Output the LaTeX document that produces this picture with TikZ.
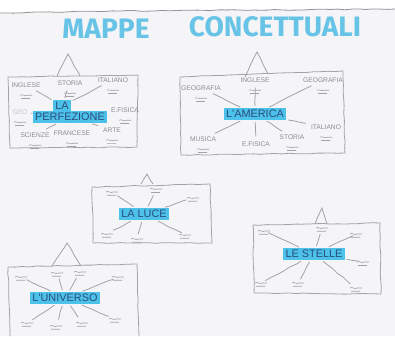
\documentclass[tikz,border=0pt]{standalone}
\usepackage{fontspec}
\usetikzlibrary{positioning, decorations.pathmorphing, calc}
\newfontfamily\titlefont{Fira Sans}
\newfontfamily\handfont{Liberation Sans}
\definecolor{mpPaper}{HTML}{F5F5F7}
\definecolor{mpPencil}{HTML}{A2A2A8}
\definecolor{mpLabel}{HTML}{8C8C94}
\definecolor{mpCyan}{HTML}{4CC2EA}
\definecolor{mpSky}{HTML}{68C4E6}
\definecolor{mpInk}{HTML}{2C4C7C}
\tikzset{
  pencil/.style={draw=mpPencil, line width=0.45pt, decorate,
    decoration={random steps, segment length=4pt, amplitude=0.25pt}},
  link/.style={pencil, shorten <=1pt, shorten >=2pt},
  topic/.style={fill=mpCyan, text=mpInk, inner sep=1.2pt,
    font=\handfont\fontsize{6.2}{6.5}\selectfont},
  subject/.style={text=mpLabel, inner sep=0.8pt,
    font=\handfont\fontsize{3.8}{4}\selectfont},
  squig/.pic={
    \draw[mpPencil, line width=0.35pt] (-6,0) .. controls (-4,-1.8) and (-1,1.8) .. (1,0)
      .. controls (2.5,-1.2) and (4,1.2) .. (6,0);
    \draw[mpPencil, line width=0.35pt] (-5,3.2) .. controls (-2,2.2) and (1,4.2) .. (4,3.2);
  }
}

\begin{document}
\begin{tikzpicture}[x=0.02cm, y=-0.02cm]
  \useasboundingbox (0,0) rectangle (395,336);
  \fill[white] (0,0) rectangle (395,336);
  \fill[mpPaper] (0,13) -- (120,11) -- (395,9) -- (395,336) -- (0,336) -- cycle;
  \draw[pencil, mpPencil!90!black] (0,13) -- (120,11) -- (395,9);

  % title
  \node[text=mpSky, font=\titlefont\bfseries\fontsize{16}{18}\selectfont] (ttlA) at (106,29) {MAPPE};
  \node[text=mpSky, font=\titlefont\bfseries\fontsize{16}{18}\selectfont] (ttlB) at (275,27) {CONCETTUALI};

  % la perfezione
  \draw[pencil] (8,77) -- (138,75) -- (137,147) -- (10,148) -- cycle;
  \draw[pencil] (57,76) -- (68,54) -- (80,76);
  \node[topic] (perfA) at (62,106) {LA};
  \node[topic] (perf) at (70,117) {PERFEZIONE};
  \node[subject] (ing) at (26,85) {INGLESE};
  \node[subject] (sto) at (70,83) {STORIA};
  \node[subject] (ita) at (113,80) {ITALIANO};
  \node[subject] (efi) at (125,110) {E.FISICA};
  \node[subject] (art) at (112,130) {ARTE};
  \node[subject] (fra) at (72,133) {FRANCESE};
  \node[subject] (sci) at (35,135) {SCIENZE};
  \node[subject, text=mpLabel!50] (geo) at (20,112) {GEO};
  \foreach \s in {ing,sto,ita,efi,art,fra,sci,geo}
    \pic at ([yshift=-3.5pt]\s.south) {squig};
  \draw[link] (perfA) -- (ing);
  \draw[link] (perfA) -- (sto);
  \draw[link] (perfA) -- (ita);
  \draw[link] (perf) -- (efi);
  \draw[link] (perf) -- (art);
  \draw[link] (perf) -- (fra);
  \draw[link] (perf) -- (sci);
  \draw[link] (perf) -- (geo);

  % l'america
  \draw[pencil] (180,77) -- (343,71) -- (345,153) -- (181,155) -- cycle;
  \draw[pencil] (245,77) -- (257,52) -- (268,74);
  \node[topic] (ame) at (255,114) {L'AMERICA};
  \node[subject] (geoA) at (201,88) {GEOGRAFIA};
  \node[subject] (ingA) at (255,80) {INGLESE};
  \node[subject] (geoB) at (323,80) {GEOGRAFIA};
  \node[subject] (itaA) at (326,127) {ITALIANO};
  \node[subject] (stoA) at (292,137) {STORIA};
  \node[subject] (efiA) at (256,144) {E.FISICA};
  \node[subject] (musA) at (203,139) {MUSICA};
  \foreach \s in {geoA,ingA,geoB,itaA,stoA,musA}
    \pic at ([yshift=-3.5pt]\s.south) {squig};
  \foreach \s in {geoA,ingA,geoB,itaA,stoA,efiA,musA}
    \draw[link] (ame) -- (\s);

  % la luce
  \draw[pencil] (92,187) -- (210,184) -- (212,243) -- (93,243) -- cycle;
  \draw[pencil] (141,184) -- (147,174) -- (153,184);
  \node[topic] (luce) at (144,214) {LA LUCE};
  \coordinate (l1) at (112,192);
  \coordinate (l2) at (156,189);
  \coordinate (l3) at (193,198);
  \coordinate (l4) at (107,234);
  \coordinate (l5) at (137,239);
  \coordinate (l6) at (185,235);
  \foreach \s in {l1,l2,l3,l4,l5,l6} {
    \pic at (\s) {squig};
    \draw[link, shorten >=4pt] (luce) -- (\s);
  }

  % le stelle
  \draw[pencil] (253,225) -- (380,223) -- (381,294) -- (254,293) -- cycle;
  \draw[pencil] (315,224) -- (322,208) -- (327,224);
  \node[topic] (stelle) at (314,254) {LE STELLE};
  \coordinate (s1) at (264,231);
  \coordinate (s2) at (322,228);
  \coordinate (s3) at (356,234);
  \coordinate (s4) at (363,262);
  \coordinate (s5) at (356,288);
  \coordinate (s6) at (298,283);
  \coordinate (s7) at (261,283);
  \foreach \s in {s1,s2,s3,s4,s5,s6,s7} {
    \pic at (\s) {squig};
    \draw[link, shorten >=4pt] (stelle) -- (\s);
  }

  % l'universo
  \draw[pencil] (52,266) -- (67,243) -- (81,266);
  \draw[pencil] (8,267) -- (137,264) -- (139,336);
  \draw[pencil] (8,267) -- (10,336);
  \node[topic] (univ) at (65,298) {L'UNIVERSO};
  \coordinate (u1) at (21,277);
  \coordinate (u2) at (57,273);
  \coordinate (u3) at (80,272);
  \coordinate (u4) at (118,277);
  \coordinate (u5) at (27,323);
  \coordinate (u6) at (56,326);
  \coordinate (u7) at (82,323);
  \coordinate (u8) at (115,319);
  \foreach \s in {u1,u2,u3,u4,u5,u6,u7,u8} {
    \pic at (\s) {squig};
    \draw[link, shorten >=4pt] (univ) -- (\s);
  }
\end{tikzpicture}
\end{document}
